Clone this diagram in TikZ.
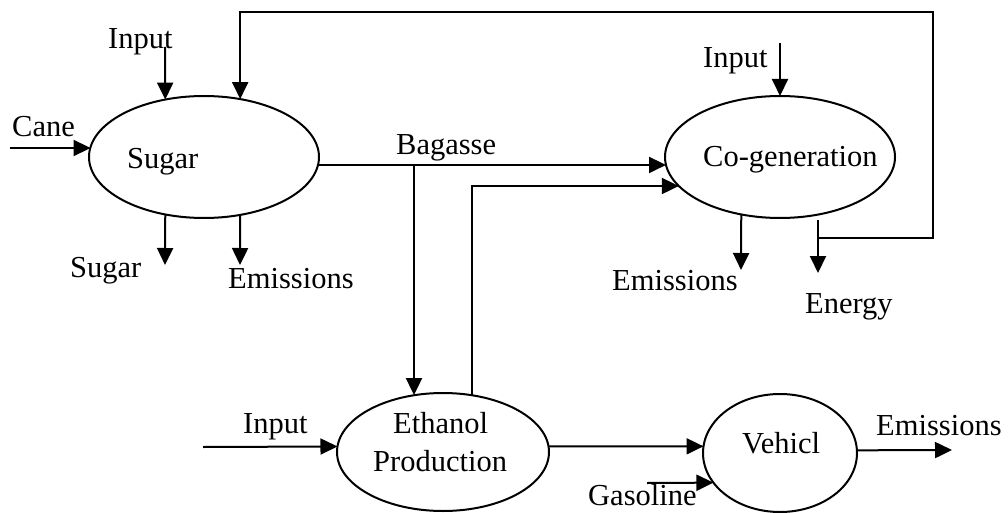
\documentclass[tikz,border=0pt]{standalone}
\usepackage{fontspec}
\setmainfont{Liberation Serif}
\usetikzlibrary{shapes.geometric,arrows.meta}
\begin{document}
\begin{tikzpicture}[x=1pt,y=-1pt,
  proc/.style={draw,ellipse,line width=2pt,inner sep=0pt,outer sep=0pt},
  arr/.style={line width=2pt,-{Triangle[length=17pt,width=16pt]}},
  lbl/.style={anchor=base west,inner sep=0pt,font=\fontsize{30.5}{34}\selectfont}]
\useasboundingbox (0,0) rectangle (1008,513);
% processes
\node[proc,minimum width=230pt,minimum height=122pt] (sugar) at (204,157) {};
\node[proc,minimum width=230pt,minimum height=122pt] (cogen) at (780,157) {};
\node[proc,minimum width=212pt,minimum height=118pt] (eth) at (443,452) {};
\node[proc,minimum width=154pt,minimum height=118pt] (veh) at (780,453) {};
% labels
\node[lbl] (tSugar) at (127,168) {Sugar};
\node[lbl] (tCogen) at (703,167) {Co-generation};
\node[lbl] (tEth) at (393,433) {Ethanol};
\node[lbl] (tProd) at (373,471) {Production};
\node[lbl] (tVeh) at (742,453) {Vehicl};
\node[lbl] (tCane) at (12,137) {Cane};
\node[lbl] (tIn1) at (108,49) {Input};
\node[lbl] (tSugOut) at (70,277) {Sugar};
\node[lbl] (tEm1) at (228,288) {Emissions};
\node[lbl] (tBag) at (396,155) {Bagasse};
\node[lbl] (tIn2) at (703,68) {Input};
\node[lbl] (tEm2) at (612,290) {Emissions};
\node[lbl] (tEn) at (805,313) {Energy};
\node[lbl] (tIn3) at (243,433) {Input};
\node[lbl] (tEm3) at (876,435) {Emissions};
\node[lbl] (tGas) at (588,505) {Gasoline};
% free ends
\coordinate (caneS) at (10,148);
\coordinate (in1S) at (165,47);
\coordinate (sugE) at (165,265);
\coordinate (em1E) at (240,265);
\coordinate (in2S) at (780,43);
\coordinate (em2E) at (741,270);
\coordinate (enS) at (818,220);
\coordinate (enJ) at (818,238);
\coordinate (enE) at (818,273);
\coordinate (fbC) at (933,12);
\coordinate (bagJ) at (414,166);
\coordinate (in3S) at (203,447);
\coordinate (em3E) at (952,450);
\coordinate (gasS) at (647,483);
% connectors
\draw[arr] (caneS) -- (caneS -| sugar.175.5);
\draw[arr] (in1S) -- (sugar.124);
\draw[arr] (sugar.-124) -- (sugE);
\draw[arr] (sugar.-58) -- (em1E);
\draw[arr] (sugar.-4) -- (cogen.184);
\draw[arr] (bagJ) -- (bagJ |- eth.116);
\draw[arr] (eth.63) |- (cogen.196);
\draw[arr] (in2S) -- (cogen.north);
\draw[arr] (cogen.-124) -- (em2E);
\draw[arr] (enS) -- (enE);
\draw[arr] (enJ) -| (fbC) -| (sugar.58);
\draw[arr] (in3S) -- (eth.177);
\draw[arr] (eth.3) -- (veh.175.5);
\draw[arr] (veh.2.5) -- (em3E);
\draw[arr] (gasS) -- (veh.204);
\end{tikzpicture}
\end{document}
